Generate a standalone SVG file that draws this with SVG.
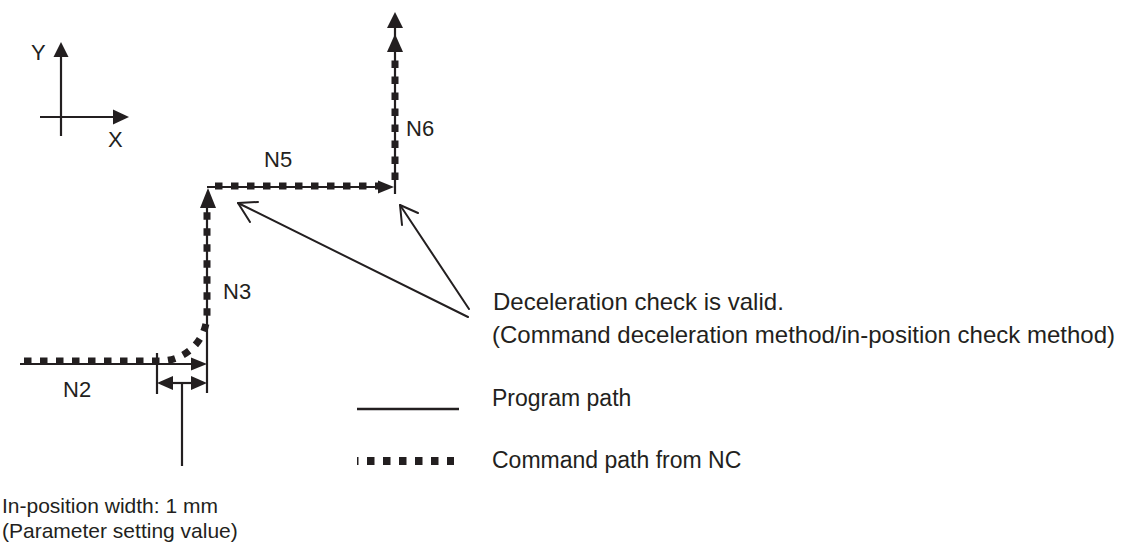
<svg xmlns="http://www.w3.org/2000/svg" width="1122" height="558" viewBox="0 0 1122 558">
<style>
  .ln{stroke:#231f20;stroke-width:2.2;fill:none;stroke-linecap:butt}
  .cmd{stroke:#231f20;stroke-width:7;fill:none;stroke-dasharray:7.5 8.5}
  .ah{fill:#231f20;stroke:none}
  .ld{stroke:#231f20;stroke-width:2;fill:none;stroke-linecap:round;stroke-linejoin:round}
  .t{font-family:"Liberation Sans",Arial,sans-serif;font-size:23px;fill:#231f20}
  .tn{font-family:"Liberation Sans",Arial,sans-serif;font-size:24px;fill:#231f20}
  .tb{font-family:"Liberation Sans",Arial,sans-serif;font-size:21px;fill:#231f20}
  .lb{font-family:"Liberation Sans",Arial,sans-serif;font-size:22px;fill:#231f20}
</style>
<rect width="1122" height="558" fill="#ffffff"/>

<g id="axes">
  <line class="ln" x1="61" y1="136" x2="61" y2="54"/>
  <polygon class="ah" points="61,42 53.5,57 68.5,57"/>
  <line class="ln" x1="40" y1="117" x2="115" y2="117"/>
  <polygon class="ah" points="129,117 113,109.5 113,124.5"/>
  <text class="lb" x="31" y="60">Y</text>
  <text class="lb" x="108" y="147">X</text>
</g>

<g id="connectors">
  <!-- program path -->
  <line class="ln" x1="20" y1="364" x2="195" y2="364"/>
  <polygon class="ah" points="207,364 191,357.5 191,370.5"/>
  <line class="ln" x1="207" y1="393" x2="207" y2="200"/>
  <line class="ln" x1="207" y1="187" x2="382" y2="187"/>
  <polygon class="ah" points="394,187 378,180.5 378,193.5"/>
  <line class="ln" x1="395" y1="194" x2="395" y2="24"/>
  <polygon class="ah" points="395,12 387,28 403,28"/>
  <!-- command path -->
  <path class="cmd" d="M 24 361 H 160 A 47 47 0 0 0 207 314 V 208"/>
  <path class="cmd" d="M 215 186 H 378"/>
  <path class="cmd" d="M 395 180 V 52"/>
  <polygon class="ah" points="208,188 200,208 216,208"/>
  <polygon class="ah" points="395,34 387,52 403,52"/>
  <!-- in-position width -->
  <line class="ln" x1="157" y1="353" x2="157" y2="394"/>
  <line class="ln" x1="170" y1="383" x2="194" y2="383"/>
  <polygon class="ah" points="157,383 173,376 173,390"/>
  <polygon class="ah" points="207,383 191,376 191,390"/>
  <line class="ln" x1="182" y1="383" x2="182" y2="466"/>
  <!-- leaders -->
  <line class="ld" x1="468" y1="317" x2="238" y2="203"/>
  <polyline class="ld" points="258,202 238,203 250,222"/>
  <line class="ld" x1="469" y1="309" x2="400" y2="205"/>
  <polyline class="ld" points="418,213 400,205 402,225"/>
</g>

<g id="labels">
  <text class="lb" x="63" y="397">N2</text>
  <text class="lb" x="223" y="299">N3</text>
  <text class="lb" x="264" y="167">N5</text>
  <text class="lb" x="406" y="136">N6</text>
</g>

<g id="note">
  <text class="tn" x="493" y="310">Deceleration check is valid.</text>
  <text class="tn" x="492" y="343">(Command deceleration method/in-position check method)</text>
</g>

<g id="legend">
  <line class="ln" x1="357" y1="409" x2="459" y2="409" style="stroke-width:2.6"/>
  <text class="t" x="492" y="406">Program path</text>
  <path class="cmd" d="M 357 461 H 454" style="stroke-width:8;stroke-dashoffset:6"/>
  <text class="t" x="492" y="468">Command path from NC</text>
</g>

<g id="inpos-label">
  <text class="tb" x="2" y="513">In-position width: 1 mm</text>
  <text class="tb" x="2" y="538">(Parameter setting value)</text>
</g>
</svg>
